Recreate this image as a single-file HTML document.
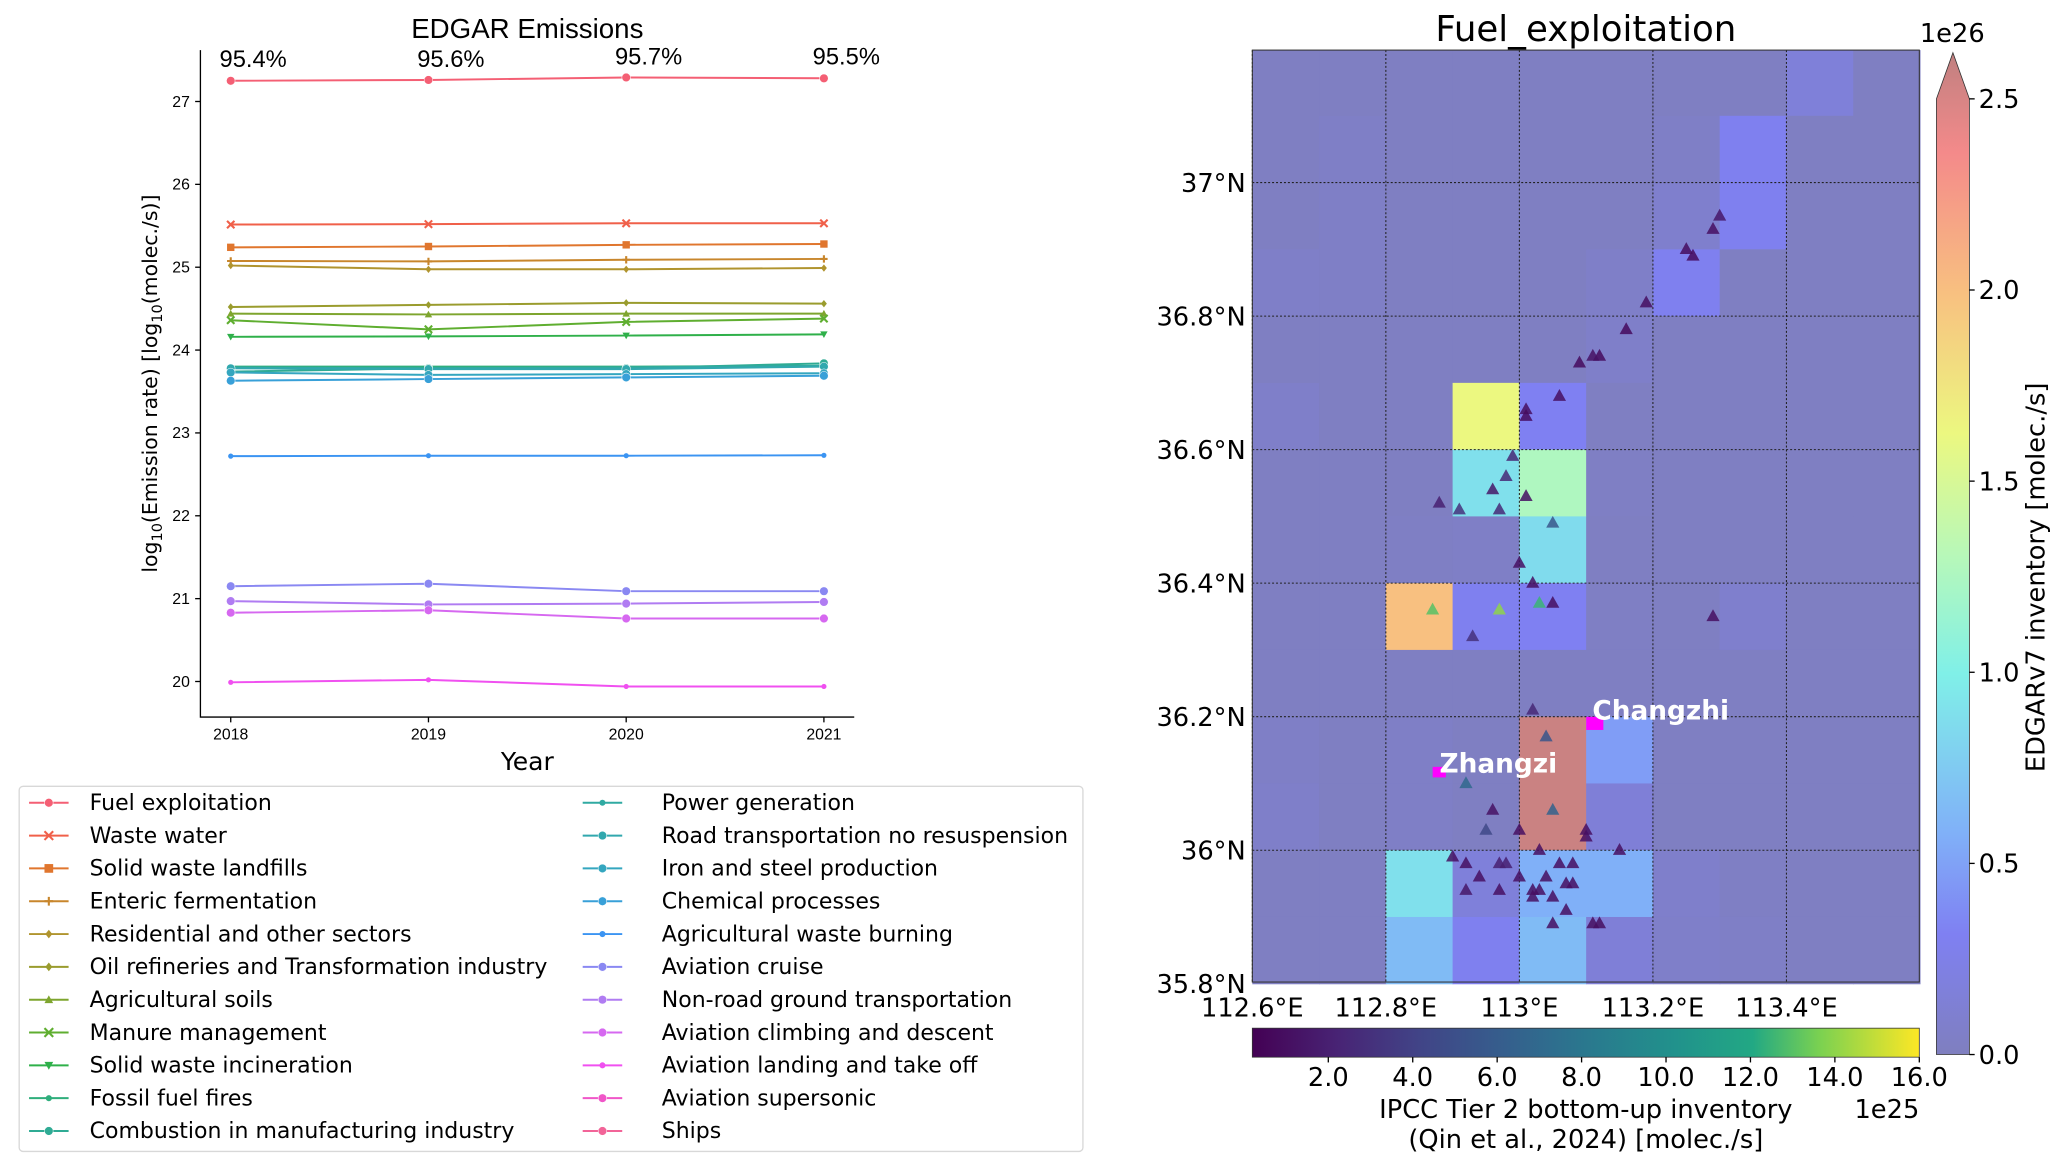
<!DOCTYPE html>
<html><head><meta charset="utf-8"><style>
html,body{margin:0;padding:0;background:#fff}
svg{display:block;font-family:"DejaVu Sans","Liberation Sans",sans-serif}
</style></head><body>
<svg id="fig" width="2067" height="1165" viewBox="0 0 1568 883.8" xmlns="http://www.w3.org/2000/svg">
<defs>
<linearGradient id="viridis" x1="0" x2="1" y1="0" y2="0">
<stop offset="0" stop-color="#440154"/><stop offset="0.13" stop-color="#482475"/><stop offset="0.25" stop-color="#414487"/><stop offset="0.38" stop-color="#355f8d"/><stop offset="0.5" stop-color="#2a788e"/><stop offset="0.63" stop-color="#21918c"/><stop offset="0.75" stop-color="#22a884"/><stop offset="0.85" stop-color="#7ad151"/><stop offset="1" stop-color="#fde725"/>
</linearGradient>
<linearGradient id="edgar" x1="0" x2="0" y1="1" y2="0">
<stop offset="0" stop-color="#7f7fbf"/><stop offset="0.12" stop-color="#7f80f2"/><stop offset="0.22" stop-color="#80b0f8"/><stop offset="0.38" stop-color="#80f0e8"/><stop offset="0.5" stop-color="#b8f8b8"/><stop offset="0.62" stop-color="#ecf880"/><stop offset="0.76" stop-color="#f8c080"/><stop offset="0.9" stop-color="#f48a8a"/><stop offset="1" stop-color="#c08080"/>
</linearGradient>
</defs>
<g id="left"></g>
<g id="map"></g>
</svg>
<script>
const NS="http://www.w3.org/2000/svg";
const years=[2018,2019,2020,2021];
const yTicks=[20,21,22,23,24,25,26,27];
const pctLabels=["95.4%","95.6%","95.7%","95.5%"];
const seriesNames=["Fuel exploitation","Waste water","Solid waste landfills","Enteric fermentation","Residential and other sectors","Oil refineries and Transformation industry","Agricultural soils","Manure management","Solid waste incineration","Fossil fuel fires","Combustion in manufacturing industry","Power generation","Road transportation no resuspension","Iron and steel production","Chemical processes","Agricultural waste burning","Aviation cruise","Non-road ground transportation","Aviation climbing and descent","Aviation landing and take off","Aviation supersonic","Ships"];
const seriesColors=["#f45f74","#f0604a","#e0762e","#c8862c","#b0942e","#9a9c2e","#7ea52e","#5fae30","#2fb04a","#2fae7c","#2fab94","#30aaa2","#31a8ae","#34a6bf","#38a0d8","#3b94f2","#8a88f2","#b07cf2","#d668f0","#f050f0","#f056c8","#f26498"];
const seriesMarkers=["o","x","s","+","d","d","^","x","v","*","o","*","o","o","o","*","o","o","o","*","o","o"];
const vFuel=[27.25,27.26,27.29,27.28];
const vWaste=[25.515,25.52,25.53,25.53];
const vLandfill=[25.24,25.25,25.27,25.28];
const vEnteric=[25.075,25.07,25.09,25.10];
const vResid=[25.02,24.975,24.975,24.99];
const vOil=[24.52,24.545,24.57,24.56];
const vSoils=[24.44,24.43,24.44,24.44];
const vManure=[24.36,24.25,24.34,24.38];
const vIncin=[24.16,24.165,24.175,24.19];
const vFossil=[23.80,23.80,23.80,23.81];
const vComb=[23.74,23.78,23.78,23.84];
const vPower=[23.79,23.78,23.79,23.81];
const vRoad=[23.78,23.77,23.77,23.80];
const vIron=[23.73,23.70,23.71,23.72];
const vChem=[23.63,23.65,23.67,23.69];
const vAgWaste=[22.72,22.725,22.725,22.73];
const vCruise=[21.15,21.18,21.09,21.09];
const vNonRoad=[20.97,20.93,20.94,20.96];
const vClimb=[20.83,20.86,20.76,20.76];
const vLanding=[19.99,20.02,19.94,19.94];
const vSuper=[null,null,null,null];
const vShips=[null,null,null,null];
const seriesValues=[vFuel,vWaste,vLandfill,vEnteric,vResid,vOil,vSoils,vManure,vIncin,vFossil,vComb,vPower,vRoad,vIron,vChem,vAgWaste,vCruise,vNonRoad,vClimb,vLanding,vSuper,vShips];

const lonTicks=[112.6,112.8,113.0,113.2,113.4];
const lonLabels=["112.6°E","112.8°E","113°E","113.2°E","113.4°E"];
const latTicks=[35.8,36.0,36.2,36.4,36.6,36.8,37.0];
const latLabels=["35.8°N","36°N","36.2°N","36.4°N","36.6°N","36.8°N","37°N"];
const edgarGrid=[
[0.02,0.02,0.02,0.02,0.02,0.02,0.02,0.02,0.15,0.02],
[0.02,0.04,0.02,0.02,0.02,0.02,0.04,0.28,0.02,0.02],
[0.02,0.04,0.02,0.02,0.02,0.02,0.08,0.28,0.02,0.02],
[0.05,0.04,0.02,0.02,0.02,0.05,0.28,0.02,0.02,0.02],
[0.02,0.02,0.02,0.02,0.02,0.06,0.02,0.02,0.02,0.02],
[0.06,0.02,0.02,1.55,0.30,0.02,0.02,0.02,0.02,0.02],
[0.02,0.02,0.02,0.85,1.20,0.03,0.02,0.02,0.02,0.02],
[0.02,0.02,0.03,0.04,0.82,0.02,0.02,0.02,0.02,0.02],
[0.02,0.02,1.90,0.28,0.30,0.03,0.02,0.08,0.02,0.02],
[0.02,0.02,0.02,0.02,0.02,0.02,0.02,0.02,0.02,0.02],
[0.04,0.02,0.04,0.02,2.45,0.45,0.02,0.02,0.02,0.02],
[0.06,0.02,0.04,0.02,2.45,0.14,0.02,0.02,0.02,0.02],
[0.02,0.02,0.85,0.16,0.55,0.55,0.07,0.03,0.02,0.02],
[0.02,0.02,0.62,0.28,0.62,0.14,0.06,0.04,0.02,0.02]];
const siteLon=[113.30,113.29,113.26,113.25,113.19,113.16,113.12,113.11,113.09,113.01,113.01,113.06,112.99,112.98,112.96,112.88,112.91,112.97,113.01,113.05,113.00,113.02,112.87,112.97,113.03,113.05,113.29,112.93,113.02,113.04,112.92,112.96,112.95,113.05,113.00,113.10,113.10,113.15,112.90,112.92,112.97,113.03,112.94,112.98,112.92,113.00,113.02,113.04,113.06,113.08,113.02,113.07,113.08,113.05,113.07,113.03,113.05,113.11,113.12,112.97];
const siteLat=[36.95,36.93,36.89,36.90,36.82,36.78,36.74,36.74,36.73,36.66,36.65,36.68,36.59,36.56,36.54,36.52,36.51,36.51,36.53,36.49,36.43,36.40,36.36,36.36,36.37,36.37,36.35,36.32,36.21,36.17,36.10,36.06,36.03,36.06,36.03,36.03,36.02,36.00,35.99,35.98,35.98,36.00,35.96,35.98,35.94,35.96,35.94,35.96,35.98,35.98,35.93,35.95,35.95,35.93,35.91,35.94,35.89,35.89,35.89,35.94];
const siteVal=[1.5,1.0,0.8,0.9,1.0,0.8,0.8,1.2,0.8,1.0,0.8,1.0,2.5,2.5,1.5,2.0,3.0,2.5,1.0,5.5,1.0,1.0,13.0,14.0,12.5,1.0,1.0,3.0,2.5,5.5,7.0,1.2,4.5,6.5,1.0,1.0,1.0,1.0,1.0,1.0,2.0,1.0,1.0,2.0,1.5,1.0,1.0,1.0,1.0,1.0,1.0,1.0,1.0,1.0,1.0,1.0,1.0,1.0,1.0,1.0];

function el(tag,attrs,parent,text){const e=document.createElementNS(NS,tag);for(const k in attrs)e.setAttribute(k,attrs[k]);if(text!==undefined)e.textContent=text;parent.appendChild(e);return e;}

const L=document.getElementById('left');
const AX={l:152,r:648,t:38,b:544};
const xs=y=>175+(y-2018)*(625-175)/3;
const ys=v=>517-(v-20)*(517-77)/7;
let t=el('text',{x:400,y:29,'font-size':21,'text-anchor':'middle','font-family':'Liberation Sans, sans-serif'},L,'EDGAR Emissions');

let a=el('path',{d:`M${AX.l},${AX.t}V${AX.b}H${AX.r}`,stroke:'#000','stroke-width':1,fill:'none'},L);

yTicks.forEach(v=>{
 el('line',{x1:AX.l-4,x2:AX.l,y1:ys(v),y2:ys(v),stroke:'#000'},L);
 const tt=el('text',{x:AX.l-8,y:ys(v)+4,'font-size':12,'text-anchor':'end','font-family':'Liberation Sans, sans-serif'},L,String(v));
 
});
years.forEach((y,i)=>{
 el('line',{x1:xs(y),x2:xs(y),y1:AX.b,y2:AX.b+4,stroke:'#000'},L);
 const tt=el('text',{x:xs(y),y:AX.b+17,'font-size':12,'text-anchor':'middle','font-family':'Liberation Sans, sans-serif'},L,String(y));
 
 const p=el('text',{x:xs(y)+17,y:i==0||i==1?51:49,'font-size':18,'text-anchor':'middle','font-family':'Liberation Sans, sans-serif'},L,pctLabels[i]);
 
});
t=el('text',{x:400,y:584,'font-size':19,'text-anchor':'middle'},L,'Year');

t=el('text',{transform:'translate(119,291) rotate(-90)','font-size':15.5,'text-anchor':'middle'},L);

t.innerHTML='log<tspan font-size="11" dy="4">10</tspan><tspan dy="-4">(Emission rate) [log</tspan><tspan font-size="11" dy="4">10</tspan><tspan dy="-4">(molec./s)]</tspan>';

function marker(g,type,x,y,c,s){
 s=s||3.2;
 if(type==='o')return el('circle',{cx:x,cy:y,r:s,fill:c,stroke:'#fff','stroke-width':0.4},g);
 if(type==='s')return el('rect',{x:x-s,y:y-s,width:2*s,height:2*s,fill:c},g);
 if(type==='d')return el('path',{d:`M${x},${y-s}L${x+s*0.8},${y}L${x},${y+s}L${x-s*0.8},${y}Z`,fill:c},g);
 if(type==='^')return el('path',{d:`M${x},${y-s}L${x+s},${y+s*0.8}L${x-s},${y+s*0.8}Z`,fill:c},g);
 if(type==='v')return el('path',{d:`M${x},${y+s}L${x+s},${y-s*0.8}L${x-s},${y-s*0.8}Z`,fill:c},g);
 if(type==='x')return el('path',{d:`M${x-s},${y-s}L${x+s},${y+s}M${x+s},${y-s}L${x-s},${y+s}`,stroke:c,'stroke-width':1.6},g);
 if(type==='+')return el('path',{d:`M${x-s},${y}H${x+s}M${x},${y-s}V${y+s}`,stroke:c,'stroke-width':1.6},g);
 return el('circle',{cx:x,cy:y,r:s*0.7,fill:c},g);
}
seriesNames.forEach((name,k)=>{
 const vals=seriesValues[k];const c=seriesColors[k];
 const g=el('g',{},L);
 
 
 const pts=[];vals.forEach((v,i)=>{if(v!=null)pts.push([xs(years[i]),ys(v)]);});
 if(pts.length){
  el('polyline',{points:pts.map(p=>p.join(',')).join(' '),fill:'none',stroke:c,'stroke-width':1.5},g);
  pts.forEach(p=>marker(g,seriesMarkers[k],p[0],p[1],c,seriesMarkers[k]==='o'?3.3:2.8));
 }
});
const LG=el('g',{},L);

el('rect',{x:14.5,y:596.5,width:807,height:277,rx:3,fill:'#fff',stroke:'#d8d8d8'},LG);
seriesNames.forEach((name,k)=>{
 const col=k<11?0:1,row=k%11;
 const x0=col?457:37,yy=609+row*24.9;
 const e=el('g',{},LG);
 
 el('line',{x1:x0-15,x2:x0+15,y1:yy,y2:yy,stroke:seriesColors[k],'stroke-width':1.5},e);
 marker(e,seriesMarkers[k],x0,yy,seriesColors[k],3.3);
 el('text',{x:col?502:68,y:yy+5.5,'font-size':16.7,'font-family':'DejaVu Sans, sans-serif'},e,name);
});

const M=document.getElementById('map');
const MX={l:950,r:1456,t:38,b:745};
const lx=lon=>950+(lon-112.6)*(101.3/0.2);
const ly=lat=>645-(lat-36.0)*(101.3/0.2);
t=el('text',{x:1203,y:31,'font-size':27,'text-anchor':'middle'},M,'Fuel_exploitation');

function edgarColor(v){
 const st=[[0,[127,127,191]],[0.3,[127,128,242]],[0.55,[128,176,248]],[0.95,[128,240,232]],[1.25,[184,248,184]],[1.55,[236,248,128]],[1.9,[248,192,128]],[2.25,[244,138,138]],[2.5,[192,128,128]]];
 for(let i=1;i<st.length;i++){if(v<=st[i][0]){const f=(v-st[i-1][0])/(st[i][0]-st[i-1][0]);const c=st[i-1][1].map((q,j)=>Math.round(q+(st[i][1][j]-q)*f));return `rgb(${c})`;}}
 return 'rgb(192,128,128)';
}
const cells=el('g',{},M);

edgarGrid.forEach((row,r)=>row.forEach((v,c)=>{
 const lat1=37.2-r*0.1,lon0=112.6+c*0.1;
 const x0=lx(lon0),x1=lx(lon0+0.1),y0=ly(lat1),y1=ly(lat1-0.1);
 const rc=el('rect',{x:x0,y:Math.max(y0,MX.t),width:x1-x0+0.4,height:y1-Math.max(y0,MX.t)+0.4,fill:edgarColor(v)},cells);
 
}));
lonTicks.forEach((lon,i)=>{
 el('line',{x1:lx(lon),x2:lx(lon),y1:MX.t,y2:MX.b,stroke:'#222','stroke-width':0.8,'stroke-dasharray':'1.5,1.5'},M);
 const tt=el('text',{x:lx(lon),y:771,'font-size':19.5,'text-anchor':'middle'},M,lonLabels[i]);
 
});
latTicks.forEach((lat,i)=>{
 if(lat>35.85)el('line',{x1:MX.l,x2:MX.r,y1:ly(lat),y2:ly(lat),stroke:'#222','stroke-width':0.8,'stroke-dasharray':'1.5,1.5'},M);
 const tt=el('text',{x:945,y:ly(lat)+7,'font-size':19.5,'text-anchor':'end'},M,latLabels[i]);
 
});
el('rect',{x:MX.l,y:MX.t,width:MX.r-MX.l,height:MX.b-MX.t,fill:'none',stroke:'#333','stroke-width':0.8},M);
function viridis(v){
 const f=Math.min(1,Math.max(0,(v-0.2)/15.8));
 const st=[[0,[68,1,84]],[0.13,[72,36,117]],[0.25,[65,68,135]],[0.38,[53,95,141]],[0.5,[42,120,142]],[0.63,[33,145,140]],[0.75,[34,168,132]],[0.85,[122,209,81]],[1,[253,231,37]]];
 for(let i=1;i<st.length;i++){if(f<=st[i][0]){const g=(f-st[i-1][0])/(st[i][0]-st[i-1][0]);return `rgb(${st[i-1][1].map((q,j)=>Math.round(q+(st[i][1][j]-q)*g))})`;}}
 return 'rgb(253,231,37)';
}
const sites=el('g',{},M);

siteLon.forEach((lon,i)=>{
 const x=lx(lon),y=ly(siteLat[i]);
 const p=el('path',{d:`M${x},${y-5.5}L${x+5},${y+3.5}L${x-5},${y+3.5}Z`,fill:viridis(siteVal[i]),'fill-opacity':0.85},sites);
 
});
[[113.11,36.19,'Changzhi',1208,546],[112.88,36.115,'Zhangzi',1092,586]].forEach(c=>{
 const g=el('g',{},M);
 
 el('rect',{x:lx(c[0])-5,y:ly(c[1])-5,width:c[2]=='Changzhi'?13:10,height:c[2]=='Changzhi'?10:8,fill:'#ff00ff'},g);
 el('text',{x:c[3],y:c[4],'font-size':20,'font-weight':'bold',fill:'#fff'},g,c[2]);
});
const hb=el('g',{},M);

el('rect',{x:950,y:780,width:506,height:22,fill:'url(#viridis)',stroke:'#333','stroke-width':0.6},hb);
const hbTicks=[2,4,6,8,10,12,14,16];
hbTicks.forEach(v=>{const x=950+(v-0.2)/15.8*506;el('line',{x1:x,x2:x,y1:802,y2:806,stroke:'#000'},hb);el('text',{x:x,y:824,'font-size':19.5,'text-anchor':'middle'},hb,v.toFixed(1));});
el('text',{x:1456,y:848,'font-size':19.5,'text-anchor':'end'},hb,'1e25');
el('text',{x:1203,y:848,'font-size':19.5,'text-anchor':'middle'},hb,'IPCC Tier 2 bottom-up inventory');
el('text',{x:1203,y:871,'font-size':19.5,'text-anchor':'middle'},hb,'(Qin et al., 2024) [molec./s]');
const vb=el('g',{},M);

el('path',{d:'M1469,800V75L1481.5,40L1494,75V800Z',fill:'url(#edgar)',stroke:'#333','stroke-width':0.6},vb);
[0,0.5,1,1.5,2,2.5].forEach(v=>{const y=800-v/2.5*725;el('line',{x1:1494,x2:1498,y1:y,y2:y,stroke:'#000'},vb);el('text',{x:1501,y:y+7,'font-size':19.5},vb,v.toFixed(1));});
el('text',{x:1481,y:32,'font-size':19.5,'text-anchor':'middle'},vb,'1e26');
el('text',{transform:'translate(1551,438) rotate(-90)','font-size':19.5,'text-anchor':'middle'},vb,'EDGARv7 inventory [molec./s]');
</script>
</body></html>
